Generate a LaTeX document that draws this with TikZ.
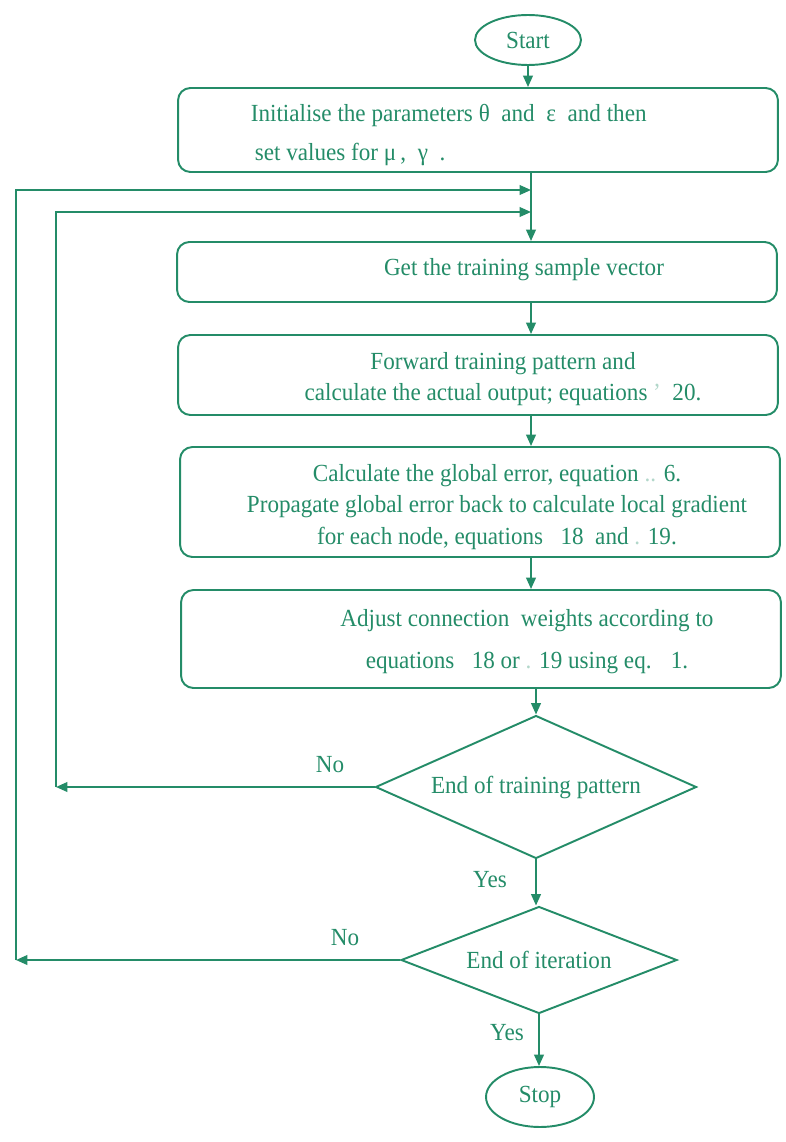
\documentclass[tikz,border=0pt]{standalone}
\usepackage{fontspec}
\setmainfont{Liberation Serif}[FakeStretch=0.94]
\usepackage{tikz}
\usetikzlibrary{arrows.meta,shapes.geometric,calc}
\definecolor{flowgreen}{RGB}{36,140,104}
\newcommand{\faint}[1]{\textcolor{flowgreen!35}{#1}}

\begin{document}
\begin{tikzpicture}[x=0.02cm, y=-0.02cm, >={Triangle[length=6.5pt,width=5.5pt]},
    line width=1.1pt, color=flowgreen,
    every node/.style={font=\fontsize{14}{18}\selectfont},
    box/.style={draw, rounded corners=7pt, minimum width=12cm},
    term/.style={draw, ellipse, inner sep=0pt},
    decide/.style={draw, diamond, inner sep=0pt}]

    \useasboundingbox (0,0) rectangle (785,1142);

    % 起止
    \node[term, minimum width=2.12cm, minimum height=1cm] (start) at (528,40) {Start};
    \node[term, minimum width=2.16cm, minimum height=1.2cm] (stop) at (540,1097) {Stop};

    % 处理框
    \node[box, minimum height=1.68cm] (b1) at (478,130) {};
    \node[anchor=west, align=left] (t1) at (244,135)
        {Initialise the parameters θ \ and \ ε \ and then\\[4pt]
         \,set values for μ\,, \ γ \ .};
    \node[box, minimum height=1.2cm] (b2) at (477,272) {};
    \node (t2) at (524,270) {Get the training sample vector};
    \node[box, minimum height=1.6cm] (b3) at (478,375) {};
    \node[align=center] (t3) at (503,379)
        {Forward training pattern and\\
         calculate the actual output; equations \faint{'}\ \ 20.};
    \node[box, minimum height=2.2cm] (b4) at (480,502) {};
    \node[align=center] (t4) at (497,507)
        {Calculate the global error, equation \faint{..} 6.\\
         Propagate global error back to calculate local gradient\\
         for each node, equations \ \ 18 \ and \faint{.} 19.};
    \node[box, minimum height=1.96cm] (b5) at (481,639) {};
    \node[align=center] (t5) at (527,642)
        {Adjust connection \ weights according to\\[6pt]
         equations \ \ 18 or \faint{.} 19 using eq. \ \ 1.};

    % 判断框
    \node[decide, shape aspect=2.25, minimum width=6.42cm, minimum height=2.86cm] (d1) at (536,787) {End of training pattern};
    \node[decide, shape aspect=2.6, minimum width=5.52cm, minimum height=2.14cm] (d2) at (539,960) {End of iteration};

    % 主流程
    \coordinate (ax) at (531,0);
    \draw[->] (start.south) -- (start.south |- b1.north);
    \draw[->] (b1.south -| ax) -- (b2.north -| ax);
    \draw[->] (b2.south -| ax) -- (b3.north -| ax);
    \draw[->] (b3.south -| ax) -- (b4.north -| ax);
    \draw[->] (b4.south -| ax) -- (b5.north -| ax);
    \draw[->] (b5.south -| d1) -- (d1.north);
    \draw[->] (d1.south) -- (d1.south |- d2.north);
    \draw[->] (d2.south) -- (d2.south |- stop.north);

    % 回路
    \coordinate (j1) at (531,190);
    \coordinate (j2) at (531,212);
    \coordinate (c1) at (56,787);
    \coordinate (c2) at (16,960);
    \draw[->] (d1.west) -- (c1);
    \draw[->] (c1) |- (j2);
    \draw[->] (d2.west) -- (c2);
    \draw[->] (c2) |- (j1);

    % 分支标注
    \node (no1) at (330,765) {No};
    \node (yes1) at (490,880) {Yes};
    \node (no2) at (345,938) {No};
    \node (yes2) at (507,1033) {Yes};
\end{tikzpicture}
\end{document}
